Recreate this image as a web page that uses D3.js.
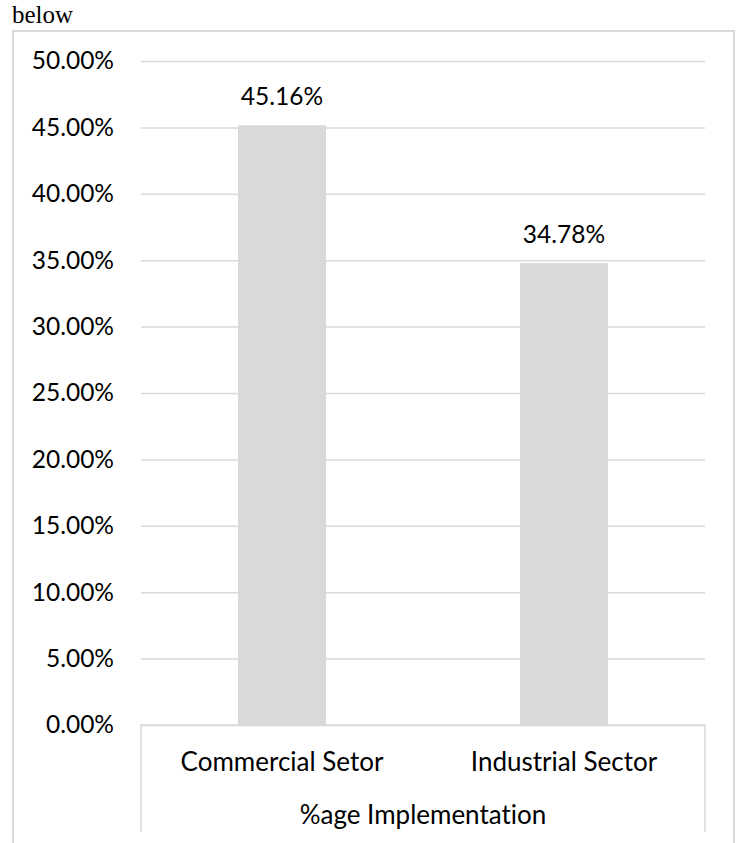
<!DOCTYPE html>
<html>
<head>
<meta charset="utf-8">
<script src="https://cdn.jsdelivr.net/npm/d3@7"></script>
<style>
  html, body { margin: 0; padding: 0; background: #fff; }
  svg { display: block; }
  text { font-variant-ligatures: none; font-feature-settings: "liga" 0, "dlig" 0; }
</style>
</head>
<body>
<svg id="chart" width="739" height="843"></svg>
<script>
// Implementation rate by sector
const categories = ["Commercial Setor", "Industrial Sector"];
const values = [45.16, 34.78];
const groupLabel = "%age Implementation";
const yTicks = [0, 5, 10, 15, 20, 25, 30, 35, 40, 45, 50];

const W = 739, H = 843;
const plot = { left: 141, right: 705, top: 61, bottom: 725 };
const grey = "#d9d9d9";
const font = "Lato, 'Open Sans', sans-serif";

const svg = d3.select("#chart");

// caption fragment above the chart frame
svg.append("text")
  .attr("x", 12).attr("y", 23)
  .attr("font-family", "'Liberation Serif', 'Times New Roman', serif")
  .attr("font-size", 25)
  .attr("fill", "#000")
  .text("below");

// outer chart frame (open at the bottom)
svg.append("path")
  .attr("d", `M13,${H} V31 H734 V${H}`)
  .attr("fill", "none")
  .attr("stroke", grey)
  .attr("stroke-width", 2);

const y = d3.scaleLinear().domain([0, 50]).range([plot.bottom, plot.top]);
const x = d3.scaleBand().domain(categories).range([plot.left, plot.right]).paddingInner(0.688).paddingOuter(0.344);

// horizontal gridlines
const yAxis = d3.axisLeft(y)
  .tickValues(yTicks)
  .tickSize(-(plot.right - plot.left))
  .tickPadding(27)
  .tickFormat(d => d3.format(".2f")(d) + "%");

const gy = svg.append("g")
  .attr("transform", `translate(${plot.left},0)`)
  .call(yAxis);
gy.select(".domain").remove();
gy.selectAll(".tick line").attr("stroke", grey).attr("stroke-width", 1.5);
gy.selectAll(".tick text")
  .attr("font-family", font)
  .attr("font-size", 24.5)
  .attr("fill", "#000");

// bars
svg.append("g").selectAll("rect")
  .data(values)
  .join("rect")
  .attr("x", (d, i) => x(categories[i]))
  .attr("width", x.bandwidth())
  .attr("y", d => y(d))
  .attr("height", d => y(0) - y(d))
  .attr("fill", grey);

// value labels
svg.append("g").selectAll("text")
  .data(values)
  .join("text")
  .attr("x", (d, i) => x(categories[i]) + x.bandwidth() / 2)
  .attr("y", d => y(d) - 20)
  .attr("text-anchor", "middle")
  .attr("font-family", font)
  .attr("font-size", 24.5)
  .attr("fill", "#000")
  .text(d => d3.format(".2f")(d) + "%");

// multi-level category axis box
const axisEnd = 832;
svg.append("path")
  .attr("d", `M${plot.left},${axisEnd} V${plot.bottom} H${plot.right} V${axisEnd}`)
  .attr("fill", "none")
  .attr("stroke", grey)
  .attr("stroke-width", 1.5);

svg.append("g").selectAll("text")
  .data(categories)
  .join("text")
  .attr("x", d => x(d) + x.bandwidth() / 2)
  .attr("y", 771)
  .attr("text-anchor", "middle")
  .attr("font-family", font)
  .attr("font-size", 26)
  .attr("fill", "#000")
  .text(d => d);

svg.append("text")
  .attr("x", (plot.left + plot.right) / 2)
  .attr("y", 824)
  .attr("text-anchor", "middle")
  .attr("font-family", font)
  .attr("font-size", 26)
  .attr("fill", "#000")
  .text(groupLabel);
</script>
</body>
</html>
